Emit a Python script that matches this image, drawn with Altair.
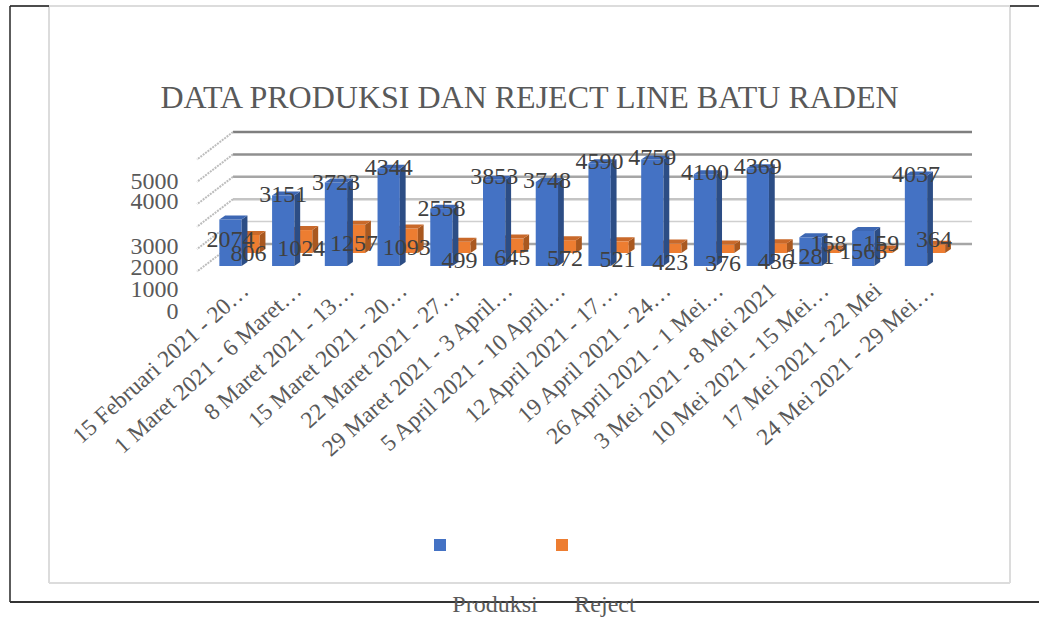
import json

import altair as alt
import pandas as pd

# Weekly production and reject counts
WEEK_LABELS = [
    "15 Februari 2021 - 20…", "1 Maret 2021 - 6 Maret…", "8 Maret 2021 - 13…",
    "15 Maret 2021 - 20…", "22 Maret 2021 - 27…", "29 Maret 2021 - 3 April…",
    "5 April 2021 - 10 April…", "12 April 2021 - 17…", "19 April 2021 - 24…",
    "26 April 2021 - 1 Mei…", "3 Mei 2021 - 8 Mei 2021", "10 Mei 2021 - 15 Mei…",
    "17 Mei 2021 - 22 Mei", "24 Mei 2021 - 29 Mei…",
]
PRODUKSI = [2074, 3151, 3723, 4344, 2558, 3853, 3748, 4590, 4759, 4100, 4369, 1281, 1565, 4037]
REJECT = [806, 1024, 1257, 1093, 499, 645, 572, 521, 423, 376, 436, 158, 159, 364]

# Value labels sit a few pixels away from the bar tops; small bars push theirs down
PRODUKSI_LABEL_SHIFT = [20, 0, 0, -1, 0, -3, -1, -1, -1, -1, -1, 20, 21, -1]
REJECT_LABEL_SHIFT = [19, 19, 19, 19, 19, 19, 19, 19, 19, 19, 19, -5, -5, -5]

WALL_TICKS = [0, 1000, 2000, 3000, 4000, 5000]
WALL_COLORS = ["#a6a6a6", "#cfcfcf", "#c4c4c4", "#a6a6a6", "#8f8f8f", "#7f7f7f"]
WALL_WIDTHS = [2.5, 1.5, 2.5, 2.5, 2.5, 2.5]

# The value-axis labels are spread unevenly, so each gets its own pixel row
AXIS_TEXT = ["5000", "4000", "3000", "2000", "1000", "0"]
AXIS_ROW = [181, 201, 246, 267, 289, 311]

WIDTH, HEIGHT = 1039, 619
SERIF = "Liberation Serif"
TEXT_GREY = "#595959"

# Projection of the pseudo-3D scene onto the page
STEP = 52.73           # pixels per week
FIRST_CENTER = 230.5   # pixel x of the first blue bar's centre
FLOOR = 266            # pixel y of value 0 on the front edge
PX_PER_UNIT = 0.0224   # pixels per produced unit
BAR_W = 22.3
SIDE_DX, SIDE_DY = 5.8, 4
REJECT_DX, REJECT_DY = 18, 13   # rejects stand behind and to the right
WALL_LEFT, WALL_RIGHT, WALL_DY = 233, 972, 22
SLANT_DX, SLANT_DY = 36, 27.5


def ux(px):
    """Horizontal pixel length in week units."""
    return px / STEP


def uy(px):
    """Vertical pixel length in value units."""
    return px / PX_PER_UNIT


def week_x(px):
    """Absolute pixel column as a week position."""
    return ux(px - FIRST_CENTER)


x_scale = alt.Scale(domain=[week_x(0), week_x(WIDTH)], nice=False, zero=False)
y_scale = alt.Scale(domain=[uy(FLOOR - HEIGHT), uy(FLOOR)], nice=False, zero=False)


def bar_faces(values, front, side, top, cx_shift, base_shift, tag):
    """Front, side and top of each bar as small filled areas."""
    rows = []
    half = ux(BAR_W / 2)
    dx, dy = ux(SIDE_DX), uy(SIDE_DY)
    for i, v in enumerate(values):
        cx = i + ux(cx_shift)
        b = uy(base_shift)
        t = b + v
        faces = [
            ("front", front, [(cx - half, b, t), (cx + half, b, t)]),
            ("side", side, [(cx + half, b, t), (cx + half + dx, b + dy, t + dy)]),
            ("top", top, [
                (cx - half, t, t),
                (cx - half + dx, t, t + dy),
                (cx + half, t, t + dy),
                (cx + half + dx, t + dy, t + dy),
            ]),
        ]
        for name, fill, points in faces:
            for px, lo, hi in points:
                rows.append({"face": f"{tag}{i}{name}", "tone": fill, "px": px, "lo": lo, "hi": hi})
    return rows


face_rows = (
    bar_faces(REJECT, "#ed7d31", "#a9581f", "#c9692a", REJECT_DX, REJECT_DY, "a")
    + bar_faces(PRODUKSI, "#4472c4", "#2c4d85", "#3d67b3", 0, 0, "b")
)
faces = alt.Chart(pd.DataFrame(face_rows)).mark_area().encode(
    x=alt.X(
        "px:Q",
        scale=x_scale,
        axis=alt.Axis(
            values=list(range(len(WEEK_LABELS))),
            labelExpr=f"{json.dumps(WEEK_LABELS, ensure_ascii=False)}[datum.value]",
            title=None, grid=False, domain=False, ticks=False,
            labelAngle=-42, labelAlign="right", labelBaseline="middle",
            labelFont=SERIF, labelFontSize=23.4, labelColor=TEXT_GREY,
            labelOffset=14.5, labelPadding=0, labelLimit=0,
            labelOverlap=False, labelBound=False, labelFlush=False,
            orient="bottom", offset=-(HEIGHT - 287),
        ),
    ),
    y=alt.Y(
        "lo:Q",
        scale=y_scale,
        axis=alt.Axis(
            values=[uy(FLOOR - row) for row in AXIS_ROW],
            labelExpr=(
                f"{json.dumps(AXIS_TEXT)}"
                f"[indexof({json.dumps([uy(FLOOR - row) for row in AXIS_ROW])}, datum.value)]"
            ),
            title=None, grid=False, domain=False, ticks=False,
            labelFont=SERIF, labelFontSize=24, labelColor=TEXT_GREY,
            labelAlign="right", labelBaseline="middle", labelPadding=0,
            labelOverlap=False, labelBound=False, labelFlush=False,
            orient="left", offset=-178,
        ),
    ),
    y2="hi:Q",
    color=alt.Color("tone:N", scale=None),
    detail="face:N",
)

# Back wall: horizontal grid lines and their slanted returns towards the viewer
wall = pd.DataFrame({"tick": WALL_TICKS, "color": WALL_COLORS, "lw": WALL_WIDTHS})
wall["y"] = wall["tick"] + uy(WALL_DY)
wall["y2"] = wall["y"] - uy(SLANT_DY)
wall["x0"] = week_x(WALL_LEFT)
wall["x1"] = week_x(WALL_RIGHT)
wall["xs"] = week_x(WALL_LEFT - SLANT_DX)

wall_lines = alt.Chart(wall).mark_rule().encode(
    x=alt.X("x0:Q", scale=x_scale, axis=None),
    x2="x1:Q",
    y=alt.Y("y:Q", scale=y_scale, axis=None),
    color=alt.Color("color:N", scale=None),
    strokeWidth=alt.StrokeWidth("lw:Q", scale=None),
)
wall_slants = alt.Chart(wall).mark_rule(color="#bdbdbd", strokeWidth=2, strokeDash=[2, 1]).encode(
    x=alt.X("x0:Q", scale=x_scale, axis=None),
    x2="xs:Q",
    y=alt.Y("y:Q", scale=y_scale, axis=None),
    y2="y2:Q",
)


def value_labels(values, shifts, cx_shift, base_shift):
    frame = pd.DataFrame({"value": values, "shift": shifts})
    frame["x"] = frame.index + ux(cx_shift)
    frame["y"] = frame["value"] + uy(base_shift) - frame["shift"].map(uy)
    return alt.Chart(frame).mark_text(
        font=SERIF, fontSize=24, color="#404040", align="center", baseline="middle"
    ).encode(
        x=alt.X("x:Q", scale=x_scale, axis=None),
        y=alt.Y("y:Q", scale=y_scale, axis=None),
        text="value:Q",
    )


labels_produksi = value_labels(PRODUKSI, PRODUKSI_LABEL_SHIFT, 0, 0)
labels_reject = value_labels(REJECT, REJECT_LABEL_SHIFT, REJECT_DX, REJECT_DY)


def frame_rule(x0, x1, y0, y1, color, width=1.5):
    return alt.Chart(pd.DataFrame({"k": [0]})).mark_rule(color=color, strokeWidth=width).encode(
        x=alt.value(x0), x2=alt.value(x1), y=alt.value(y0), y2=alt.value(y1)
    )


# Pale chart card inside a dark page frame
CARD = "#dcdcdc"
INK = "#262626"
frames = [
    frame_rule(49, 1010, 6, 6, CARD, 2),
    frame_rule(49, 1010, 583, 583, CARD, 2),
    frame_rule(49, 49, 6, 583, CARD, 2),
    frame_rule(1010, 1010, 6, 583, CARD, 2),
    frame_rule(10, 49, 6, 6, "#111111"),
    frame_rule(1010, 1039, 6, 6, "#111111"),
    frame_rule(10, 10, 6, 602, INK),
    frame_rule(10, 1039, 602, 602, "#333333", 2),
]

# Legend swatches stand apart from their captions
SERIES = ["Produksi", "Reject"]
SERIES_COLORS = ["#4472c4", "#ed7d31"]
SWATCH_X = [440, 562]
CAPTION_X = [495, 605]
legend = pd.DataFrame({"name": SERIES, "color": SERIES_COLORS, "sx": SWATCH_X, "cx": CAPTION_X})
swatches = alt.Chart(legend).mark_square(size=144, opacity=1, filled=True).encode(
    x=alt.X("sx:Q", scale=None, axis=None),
    y=alt.value(545),
    fill=alt.Fill("color:N", scale=None),
)
captions = alt.Chart(legend).mark_text(
    font=SERIF, fontSize=24, color=TEXT_GREY, align="center", baseline="middle"
).encode(
    x=alt.X("cx:Q", scale=None, axis=None),
    y=alt.value(605),
    text="name:N",
)

chart = alt.layer(
    *frames, wall_lines, wall_slants, faces, labels_produksi, labels_reject, swatches, captions
).properties(
    width=WIDTH,
    height=HEIGHT,
    padding=0,
    autosize=alt.AutoSizeParams(type="none"),
    title=alt.TitleParams(
        "DATA PRODUKSI DAN REJECT LINE BATU RADEN",
        font=SERIF, fontSize=32, fontWeight="normal", color=TEXT_GREY,
        anchor="middle", frame="group", baseline="middle", offset=0, dy=130, dx=10,
    ),
).resolve_scale(x="independent", y="independent").configure_view(stroke=None)

chart.save("out.html", embed_options={"renderer": "svg", "actions": False})
